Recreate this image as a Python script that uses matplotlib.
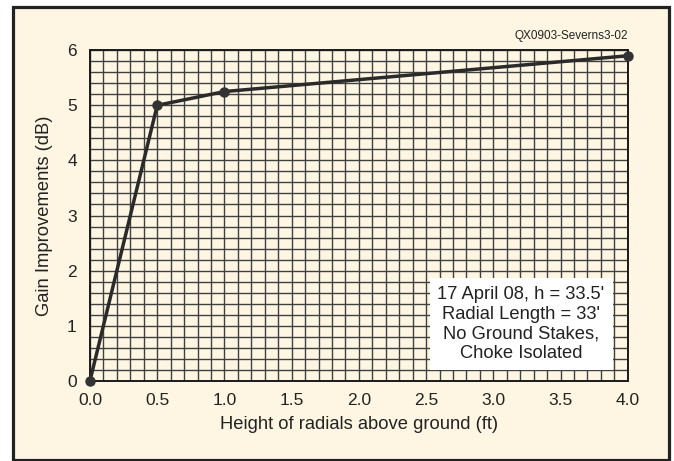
import matplotlib.pyplot as plt
from matplotlib.patches import Rectangle
import numpy as np

plt.rcParams['font.family'] = ['Liberation Sans', 'DejaVu Sans']

# data
hauteur = [0.0, 0.5, 1.0, 4.0]
gain = [0.0, 5.0, 5.25, 5.9]
xticks = [0.0, 0.5, 1.0, 1.5, 2.0, 2.5, 3.0, 3.5, 4.0]
yticks = [0, 1, 2, 3, 4, 5, 6]
note = "17 April 08, h = 33.5'\nRadial Length = 33'\nNo Ground Stakes,\nChoke Isolated"
fond = '#fef6e2'
encre = '#222222'

fig = plt.figure(figsize=(6.74, 4.61), dpi=100)
fig.patch.set_facecolor('white')
# cadre exterieur
fig.patches.append(Rectangle((0.020, 0.003), 0.973, 0.981, transform=fig.transFigure,
                             facecolor=fond, edgecolor=encre, linewidth=2.3, zorder=-10))

ax = fig.add_axes([0.1335, 0.174, 0.798, 0.717])
ax.set_facecolor(fond)
ax.set_xlim(0, 4)
ax.set_ylim(0, 6)

# quadrillage
for xv in np.arange(0, 4.0001, 0.1):
    ax.axvline(xv, color='#404040', lw=1.0, zorder=1)
for yv in np.arange(0, 6.0001, 0.2):
    ax.axhline(yv, color='#404040', lw=1.0, zorder=1)

ax.plot(hauteur, gain, color='#2a2a2a', lw=2.5, marker='o', ms=6.5,
        markerfacecolor='#333333', markeredgecolor='#333333', zorder=3, clip_on=False)

ax.set_xticks(xticks)
ax.set_xticklabels(['%.1f' % v for v in xticks])
ax.set_yticks(yticks)
ax.tick_params(length=0, labelsize=12.5, colors=encre)
ax.tick_params(axis='x', pad=8.5)
ax.tick_params(axis='y', pad=9.5)
for s in ax.spines.values():
    s.set_color('#1a1a1a')
    s.set_linewidth(1.4)

ax.set_xlabel('Height of radials above ground (ft)', fontsize=13.2, color=encre, labelpad=6)
ax.set_ylabel('Gain Improvements (dB)', fontsize=13.2, color=encre, labelpad=10)

ax.text(1.0, 1.025, 'QX0903-Severns3-02', transform=ax.transAxes, ha='right', va='bottom',
        fontsize=8.5, color=encre)

# encadre blanc de la note
ax.add_patch(Rectangle((0.632, 0.032), 0.340, 0.279, transform=ax.transAxes,
                       facecolor='white', edgecolor='none', zorder=4))
ax.text(0.801, 0.171, note, transform=ax.transAxes, ha='center', va='center',
        fontsize=13.2, color=encre, linespacing=1.2, zorder=5)

fig.savefig('out.png', dpi=100, facecolor=fig.get_facecolor())
